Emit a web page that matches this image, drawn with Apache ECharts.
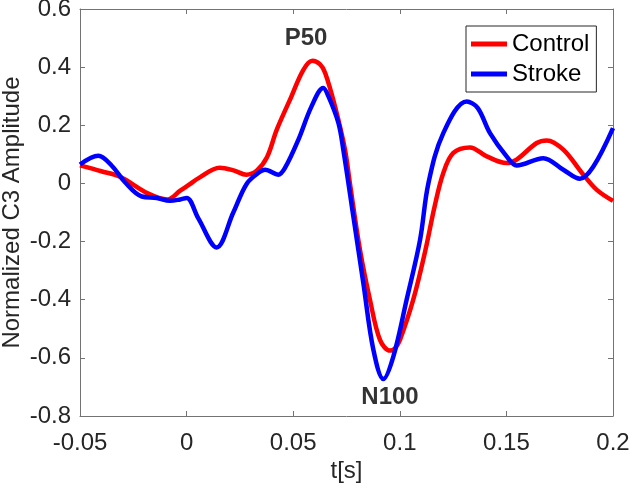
<!DOCTYPE html>
<html>
<head>
<meta charset="utf-8">
<script src="https://cdn.jsdelivr.net/npm/echarts@6/dist/echarts.min.js"></script>
<style>html,body{margin:0;padding:0;background:#fff}#c{width:630px;height:488px}</style>
</head>
<body>
<div id="c"></div>
<script>
// ---- data ----
var tControl = [-0.05,-0.04,-0.031,-0.018,-0.009,-0.003,0.001,0.006,0.0155,0.022,0.028,0.033,0.0377,0.0423,0.0485,0.0547,0.059,0.0625,0.065,0.0696,0.0743,0.0766,0.0813,0.086,0.0907,0.0954,0.098,0.1001,0.1063,0.112,0.1163,0.1204,0.1251,0.1329,0.1408,0.1501,0.1548,0.1642,0.169,0.1767,0.1861,0.1924,0.2];
var vControl = [0.062,0.042,0.022,-0.035,-0.055,-0.025,-0.005,0.02,0.054,0.045,0.03,0.045,0.09,0.185,0.288,0.39,0.422,0.41,0.38,0.265,0.116,0.0,-0.228,-0.4,-0.538,-0.575,-0.565,-0.538,-0.4,-0.23,-0.08,0.036,0.105,0.124,0.093,0.07,0.082,0.139,0.148,0.116,0.03,-0.022,-0.06];
var tStroke = [-0.05,-0.0414,-0.035,-0.029,-0.021,-0.014,-0.0078,-0.003,0.0,0.0055,0.0141,0.0219,0.0283,0.0344,0.0368,0.043,0.0462,0.0524,0.0586,0.0641,0.0665,0.0712,0.0735,0.0782,0.0829,0.0876,0.0923,0.097,0.1032,0.1095,0.1134,0.1204,0.1314,0.1365,0.1423,0.1501,0.1548,0.1673,0.1767,0.1845,0.1908,0.2];
var vStroke = [0.065,0.095,0.06,0.005,-0.045,-0.05,-0.06,-0.055,-0.05,-0.12,-0.22,-0.1,0.0,0.04,0.047,0.03,0.054,0.15,0.265,0.328,0.30,0.208,0.116,-0.113,-0.343,-0.572,-0.673,-0.595,-0.4,-0.194,0.0,0.173,0.282,0.26,0.173,0.093,0.062,0.087,0.047,0.016,0.058,0.19];
var seriesNames = ['Control','Stroke'];
var annoText = ['P50','N100'];
var annoT = [0.056, 0.0954];
var annoV = [0.5, -0.737];
var xTicks = {min:-0.05, max:0.2, interval:0.05};
var yTicks = {min:-0.8, max:0.6, interval:0.2};

function pairs(t, v){ return t.map(function(x,i){ return [x, v[i]]; }); }

var FONT = "'Liberation Sans', Arial, Helvetica, sans-serif";
var AX = '#737373', TXT = '#262626';

function axisCommon(showLabel){
  return {
    axisLine:{show:true, onZero:false, lineStyle:{color:AX, width:1}},
    axisTick:{show:true, inside:true, length:5, lineStyle:{color:AX, width:1}},
    axisLabel:{show:showLabel, color:TXT, fontFamily:FONT, fontSize:24},
    splitLine:{show:false}
  };
}

var chart = echarts.init(document.getElementById('c'), null, {renderer:'canvas'});
var option = {
  animation:false,
  backgroundColor:'#fff',
  grid:{left:80, right:17, top:9, bottom:72, containLabel:false, outerBoundsMode:'none'},
  xAxis:[
    Object.assign({type:'value', min:xTicks.min, max:xTicks.max, interval:xTicks.interval, position:'bottom',
      name:'t[s]', nameLocation:'middle', nameGap:43, nameMoveOverlap:false,
      nameTextStyle:{color:TXT, fontFamily:FONT, fontSize:24}}, axisCommon(true),
      {axisLabel:{show:true, color:TXT, fontFamily:FONT, fontSize:24, margin:15}}),
    Object.assign({type:'value', min:xTicks.min, max:xTicks.max, interval:xTicks.interval, position:'top'}, axisCommon(false))
  ],
  yAxis:[
    Object.assign({type:'value', min:yTicks.min, max:yTicks.max, interval:yTicks.interval, position:'left',
      name:'Normalized C3 Amplitude', nameLocation:'middle', nameGap:56, nameRotate:90, nameMoveOverlap:false,
      nameTextStyle:{color:TXT, fontFamily:FONT, fontSize:24}}, axisCommon(true),
      {axisLabel:{show:true, color:TXT, fontFamily:FONT, fontSize:24, margin:9, padding:[5,0,0,0]}}),
    Object.assign({type:'value', min:yTicks.min, max:yTicks.max, interval:yTicks.interval, position:'right'}, axisCommon(false))
  ],
  legend:{
    show:true, orient:'vertical', left:466, top:26,
    data:seriesNames,
    icon:'rect', itemWidth:36, itemHeight:5, itemGap:6, itemTextGap:5,
    padding:[6,7,6,5],
    borderColor:'#262626', borderWidth:1, backgroundColor:'#fff',
    textStyle:{color:'#000', fontFamily:FONT, fontSize:24, lineHeight:24}
  },
  series:[
    {name:seriesNames[0], type:'line', xAxisIndex:0, yAxisIndex:0, data:pairs(tControl, vControl),
      smooth:0.35, showSymbol:false, symbol:'none', lineStyle:{color:'#ff0000', width:4.5}, itemStyle:{color:'#ff0000'}},
    {name:seriesNames[1], type:'line', xAxisIndex:0, yAxisIndex:0, data:pairs(tStroke, vStroke),
      smooth:0.35, showSymbol:false, symbol:'none', lineStyle:{color:'#0000ff', width:4.5}, itemStyle:{color:'#0000ff'}},
    {name:'annotations', type:'scatter', xAxisIndex:0, yAxisIndex:0, symbolSize:0, silent:true,
      data:annoText.map(function(s,i){ return {value:[annoT[i], annoV[i]], name:s}; }),
      label:{show:true, position:'inside', formatter:'{b}', color:'#000', fontFamily:FONT, fontSize:24, fontWeight:'bold'}}
  ]
};
chart.setOption(option);
</script>
</body>
</html>
